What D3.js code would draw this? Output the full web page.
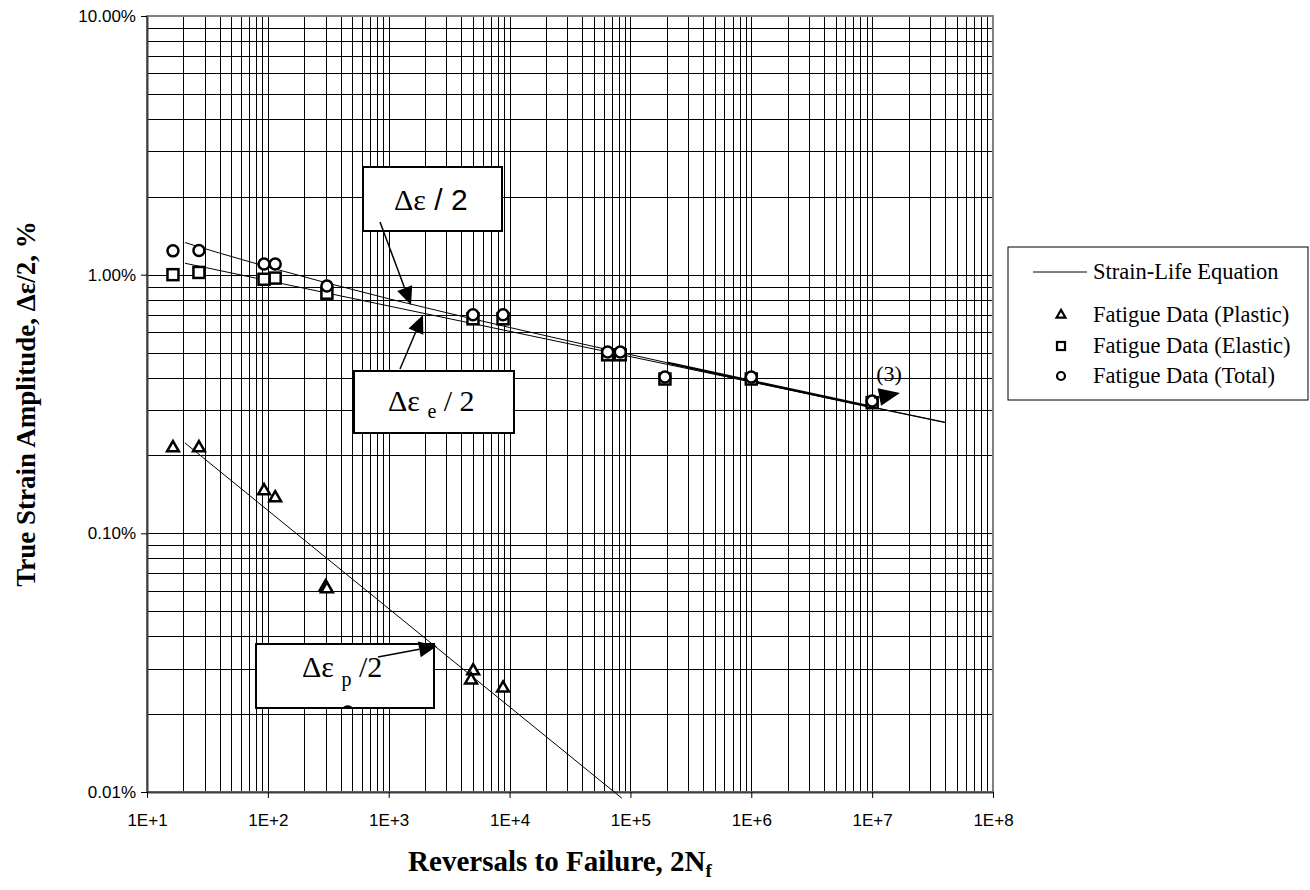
<!DOCTYPE html>
<html>
<head>
<meta charset="utf-8">
<script src="https://cdn.jsdelivr.net/npm/d3@7"></script>
<style>
body { margin: 0; background: #fff; }
svg { display: block; }
</style>
</head>
<body>
<svg width="1310" height="890"></svg>
<script>
// Fatigue data (reversals 2Nf, strain amplitude in %)
var totalReversals = [16.4, 26.9, 93, 115, 308, 4980, 8830, 64800, 82400, 193000, 1000000, 10000000];
var totalStrain = [1.236, 1.24, 1.10, 1.10, 0.904, 0.70, 0.70, 0.502, 0.502, 0.402, 0.402, 0.325];
var elasticReversals = [16.4, 26.9, 93, 115, 308, 4980, 8830, 64800, 82400, 193000, 1000000, 10000000];
var elasticStrain = [1.00, 1.02, 0.96, 0.97, 0.848, 0.675, 0.675, 0.49, 0.49, 0.395, 0.395, 0.32];
var plasticReversals = [16.4, 26.9, 93, 115, 300, 308, 5000, 4800, 8830];
var plasticStrain = [0.214, 0.214, 0.146, 0.137, 0.062, 0.061, 0.0294, 0.0271, 0.0252];
// lone total point that sits under the plastic callout box
var strayReversals = [458];
var strayStrain = [0.0204];

// Strain-life equation lines
var curveReversals = [20.6, 40, 100, 300, 1000, 3000, 10000, 30000, 100000, 200000, 1000000, 10000000, 40000000];
var curveTotal = [1.331, 1.211, 1.071, 0.932, 0.807, 0.713, 0.625, 0.556, 0.491, 0.457, 0.388, 0.308, 0.269];
var elasticLineReversals = [20.6, 40000000];
var elasticLine = [1.107, 0.268];
var plasticLineReversals = [20.6, 85000];
var plasticLine = [0.2236, 0.00946];

var xTicks = [10, 100, 1000, 10000, 100000, 1000000, 10000000, 100000000];
var yTicks = [0.01, 0.1, 1, 10];

var legendLabels = ["Strain-Life Equation", "Fatigue Data (Plastic)", "Fatigue Data (Elastic)", "Fatigue Data (Total)"];

var svg = d3.select("svg");
var plotLeft = 147, plotTop = 16, plotRight = 993, plotBottom = 792;

var x = d3.scaleLog().domain([10, 1e8]).range([plotLeft, plotRight]);
var y = d3.scaleLog().domain([0.01, 10]).range([plotBottom, plotTop]);

var serif = "'Liberation Serif', 'Times New Roman', serif";
var sans = "'Liberation Sans', Arial, sans-serif";

// minor grid values for every decade
var xGrid = [], yGrid = [];
for (var e = 1; e < 8; e++) for (var m = 1; m < 10; m++) xGrid.push(m * Math.pow(10, e));
for (var e2 = -2; e2 < 1; e2++) for (var m2 = 1; m2 < 10; m2++) yGrid.push(m2 * Math.pow(10, e2));

var grid = svg.append("g").attr("stroke", "#000").attr("stroke-width", 1).attr("shape-rendering", "crispEdges");
grid.selectAll("line.gx").data(xGrid).join("line")
    .attr("x1", function(d) { return Math.round(x(d)) + 0.5; })
    .attr("x2", function(d) { return Math.round(x(d)) + 0.5; })
    .attr("y1", plotTop).attr("y2", plotBottom);
grid.selectAll("line.gy").data(yGrid).join("line")
    .attr("y1", function(d) { return Math.round(y(d)) + 0.5; })
    .attr("y2", function(d) { return Math.round(y(d)) + 0.5; })
    .attr("x1", plotLeft).attr("x2", plotRight);

// plot area border
svg.append("rect")
    .attr("x", plotLeft).attr("y", plotTop)
    .attr("width", plotRight - plotLeft).attr("height", plotBottom - plotTop)
    .attr("fill", "none").attr("stroke", "#808080").attr("stroke-width", 2);

// axes
var yAxis = svg.append("g")
    .attr("transform", "translate(" + plotLeft + ",0)")
    .call(d3.axisLeft(y).tickValues(yTicks).tickSize(6).tickSizeOuter(0).tickPadding(5)
        .tickFormat(function(d) { return d.toFixed(2) + "%"; }));
var xAxis = svg.append("g")
    .attr("transform", "translate(0," + plotBottom + ")")
    .call(d3.axisBottom(x).tickValues(xTicks).tickSize(6).tickSizeOuter(0).tickPadding(16)
        .tickFormat(function(d) { return "1E+" + Math.round(Math.log10(d)); }));
[xAxis, yAxis].forEach(function(a) {
    a.selectAll("text").attr("font-family", sans).attr("font-size", 17).attr("fill", "#000");
    a.selectAll("line").attr("stroke", "#000");
    a.select(".domain").attr("stroke", "#404040").attr("stroke-width", 2);
});

// strain-life lines
var line = d3.line().x(function(d) { return x(d[0]); }).y(function(d) { return y(d[1]); });
var lines = svg.append("g").attr("fill", "none").attr("stroke", "#000").attr("stroke-width", 1);
lines.append("path").attr("d", line(d3.zip(curveReversals, curveTotal)));
lines.append("path").attr("d", line(d3.zip(elasticLineReversals, elasticLine)));
lines.append("path").attr("d", line(d3.zip(plasticLineReversals, plasticLine)));
// bold portion pointed at by "(3)"
lines.append("path").attr("stroke-width", 2.5)
    .attr("d", line(d3.zip(curveReversals, curveTotal).filter(function(d) { return d[0] >= 200000 && d[0] <= 10000000; })));

// markers
var tri = d3.symbol().type(d3.symbolTriangle).size(60);
svg.append("g").selectAll("path").data(d3.zip(plasticReversals, plasticStrain)).join("path")
    .attr("d", tri)
    .attr("transform", function(d) { return "translate(" + x(d[0]) + "," + y(d[1]) + ")"; })
    .attr("fill", "#fff").attr("stroke", "#000").attr("stroke-width", 2.5);
svg.append("g").selectAll("rect").data(d3.zip(elasticReversals, elasticStrain)).join("rect")
    .attr("x", function(d) { return x(d[0]) - 5.5; })
    .attr("y", function(d) { return y(d[1]) - 5.5; })
    .attr("width", 11).attr("height", 11)
    .attr("fill", "#fff").attr("stroke", "#000").attr("stroke-width", 2.5);
svg.append("g").selectAll("circle").data(d3.zip(totalReversals, totalStrain)).join("circle")
    .attr("cx", function(d) { return x(d[0]); })
    .attr("cy", function(d) { return y(d[1]); })
    .attr("r", 5.5)
    .attr("fill", "#fff").attr("stroke", "#000").attr("stroke-width", 2.5);

// callout boxes
function arrow(x1, y1, x2, y2, len, w) {
    var a = Math.atan2(y2 - y1, x2 - x1);
    var bx = x2 - len * Math.cos(a), by = y2 - len * Math.sin(a);
    svg.append("line").attr("x1", x1).attr("y1", y1).attr("x2", bx).attr("y2", by)
        .attr("stroke", "#000").attr("stroke-width", 1.5);
    svg.append("path")
        .attr("d", "M" + x2 + "," + y2 +
            "L" + (bx + w * Math.sin(a)) + "," + (by - w * Math.cos(a)) +
            "L" + (bx - w * Math.sin(a)) + "," + (by + w * Math.cos(a)) + "Z")
        .attr("fill", "#000");
}
function box(bx, by, bw, bh) {
    svg.append("rect").attr("x", bx).attr("y", by).attr("width", bw).attr("height", bh)
        .attr("fill", "#fff").attr("stroke", "#000").attr("stroke-width", 2);
}

box(363, 167, 139, 64);
var t1 = svg.append("text").attr("x", 394).attr("y", 210).attr("font-size", 30).attr("fill", "#000");
t1.append("tspan").attr("font-family", serif).text("\u0394\u03b5");
t1.append("tspan").attr("font-family", sans).text(" / 2");
arrow(380, 222, 411, 305, 18, 8);

box(354, 371, 160, 62);
var t2 = svg.append("text").attr("x", 388).attr("y", 411).attr("font-family", serif).attr("font-size", 30).attr("fill", "#000");
t2.append("tspan").text("\u0394\u03b5 ");
t2.append("tspan").attr("font-size", 20).attr("dy", 7).text("e");
t2.append("tspan").attr("dy", -7).text(" / 2");
arrow(400, 369, 423, 315, 18, 8);

box(256, 644, 178, 64);
// stray point shows only as an arc at the bottom edge of this box
var clip = svg.append("clipPath").attr("id", "strayClip");
clip.append("rect").attr("x", 256).attr("y", 644).attr("width", 178).attr("height", 65);
svg.append("g").attr("clip-path", "url(#strayClip)")
    .selectAll("circle").data(d3.zip(strayReversals, strayStrain)).join("circle")
    .attr("cx", function(d) { return x(d[0]); })
    .attr("cy", function(d) { return y(d[1]); })
    .attr("r", 5.5)
    .attr("fill", "none").attr("stroke", "#000").attr("stroke-width", 2.5);
var t3 = svg.append("text").attr("x", 302).attr("y", 677).attr("font-family", serif).attr("font-size", 30).attr("fill", "#000");
t3.append("tspan").text("\u0394\u03b5 ");
t3.append("tspan").attr("font-size", 20).attr("dy", 9).text("p");
t3.append("tspan").attr("dy", -9).text(" /2");
arrow(378, 657, 437, 646, 18, 8);

svg.append("text").attr("x", 889).attr("y", 381).attr("text-anchor", "middle")
    .attr("font-family", serif).attr("font-size", 22).attr("fill", "#000").text("(3)");
arrow(874, 398, 900, 393, 21, 9);

// axis titles
svg.append("text")
    .attr("transform", "translate(35," + ((plotTop + plotBottom) / 2) + ") rotate(-90)")
    .attr("text-anchor", "middle").attr("font-family", serif).attr("font-weight", "bold")
    .attr("font-size", 27).attr("fill", "#000")
    .text("True Strain Amplitude, \u0394\u03b5/2, %");
var xt = svg.append("text")
    .attr("x", 560).attr("y", 871)
    .attr("text-anchor", "middle").attr("font-family", serif).attr("font-weight", "bold")
    .attr("font-size", 29).attr("fill", "#000");
xt.append("tspan").text("Reversals to Failure, 2N");
xt.append("tspan").attr("font-size", 19).attr("dy", 6).text("f");

// legend
var rowY = [25, 68, 99, 129];
var lg = svg.append("g").attr("transform", "translate(1008,247)");
lg.append("rect").attr("width", 300).attr("height", 153)
    .attr("fill", "#fff").attr("stroke", "#000").attr("stroke-width", 1);
var rows = lg.selectAll("g.row").data(legendLabels).join("g")
    .attr("transform", function(d, i) { return "translate(0," + rowY[i] + ")"; });
rows.append("text").attr("x", 85).attr("y", 7)
    .attr("font-family", serif).attr("font-size", 22.5).attr("fill", "#000")
    .text(function(d) { return d; });
rows.filter(function(d, i) { return i === 0; }).append("line")
    .attr("x1", 25).attr("x2", 79).attr("stroke", "#000").attr("stroke-width", 1);
rows.filter(function(d, i) { return i === 1; }).append("path")
    .attr("d", d3.symbol().type(d3.symbolTriangle).size(34))
    .attr("transform", "translate(53,0)")
    .attr("fill", "#fff").attr("stroke", "#000").attr("stroke-width", 2.2);
rows.filter(function(d, i) { return i === 2; }).append("rect")
    .attr("x", 49).attr("y", -4).attr("width", 8).attr("height", 8)
    .attr("fill", "#fff").attr("stroke", "#000").attr("stroke-width", 2.2);
rows.filter(function(d, i) { return i === 3; }).append("circle")
    .attr("cx", 53).attr("r", 4)
    .attr("fill", "#fff").attr("stroke", "#000").attr("stroke-width", 2.2);
</script>
</body>
</html>
